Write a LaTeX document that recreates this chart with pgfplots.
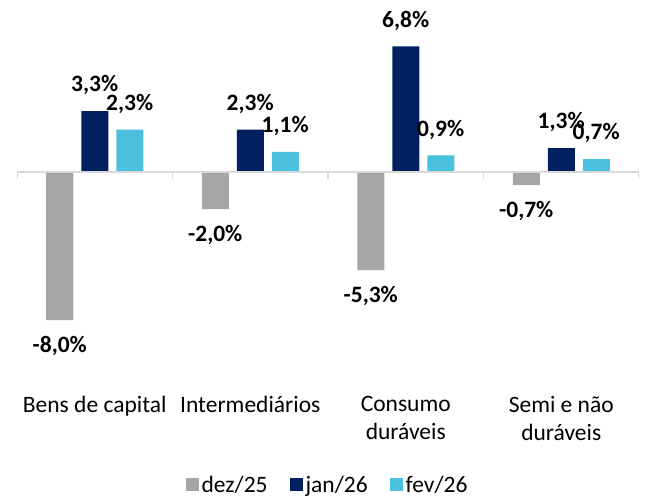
\documentclass[border=0pt]{standalone}
\usepackage{pgfplots}
\pgfplotsset{compat=1.18}
\usepackage{fontspec}
\setmainfont{Carlito}
\definecolor{cgray}{RGB}{166,166,166}
\definecolor{cnavy}{RGB}{0,32,96}
\definecolor{ccyan}{RGB}{75,192,222}
\definecolor{caxis}{RGB}{217,217,217}
\begin{document}
\begin{tikzpicture}
\useasboundingbox (0,0) rectangle (649bp,500bp);
\begin{axis}[
  at={(17bp,143bp)}, anchor=south west,
  scale only axis, width=622bp, height=342bp,
  xmin=-0.5, xmax=3.5, ymin=-10, ymax=8.5,
  hide y axis,
  axis line style={draw=none},
  major tick length=0pt,
  xtick={0,1,2,3},
  xticklabels={Bens de capital,Intermediários,Consumo\\duráveis,Semi e não\\duráveis},
  xticklabel style={align=center, font=\fontsize{23.5bp}{28bp}\selectfont, yshift=-36bp},
  ybar=8bp, bar width=27bp,
  nodes near coords={\pgfmathprintnumber[fixed,fixed zerofill,precision=1,use comma,assume math mode=true]{\pgfplotspointmeta}\%},
  nodes near coords align={vertical},
  every node near coord/.append style={font=\fontsize{23.5bp}{28bp}\selectfont\bfseries, inner ysep=16bp, inner xsep=0pt, text=black},
  legend columns=3,
  legend style={at={(0.50,-0.374)}, anchor=center, draw=none, fill=none,
    font=\fontsize{23.5bp}{28bp}\selectfont,
    /tikz/every even column/.append style={column sep=20bp},
    nodes={inner sep=2.5bp}},
  legend image code/.code={\fill[#1] (0bp,-6.5bp) rectangle (13bp,6.5bp);},
]
\addplot[fill=cgray, draw=none] coordinates {(0,-8.0) (1,-2.0) (2,-5.3) (3,-0.7)};
\addplot[fill=cnavy, draw=none] coordinates {(0,3.3) (1,2.3) (2,6.8) (3,1.3)};
\addplot[fill=ccyan, draw=none] coordinates {(0,2.3) (1,1.1) (2,0.9) (3,0.7)};
\legend{dez/25,jan/26,fev/26}
\draw[caxis, line width=1.8bp] (axis cs:-0.5,0) -- (axis cs:3.5,0);
\draw[caxis, line width=1.5bp] (axis cs:-0.5,0) -- ([yshift=-7bp]axis cs:-0.5,0);
\draw[caxis, line width=1.5bp] (axis cs:0.5,0) -- ([yshift=-7bp]axis cs:0.5,0);
\draw[caxis, line width=1.5bp] (axis cs:1.5,0) -- ([yshift=-7bp]axis cs:1.5,0);
\draw[caxis, line width=1.5bp] (axis cs:2.5,0) -- ([yshift=-7bp]axis cs:2.5,0);
\draw[caxis, line width=1.5bp] (axis cs:3.5,0) -- ([yshift=-7bp]axis cs:3.5,0);
\end{axis}
\end{tikzpicture}
\end{document}
